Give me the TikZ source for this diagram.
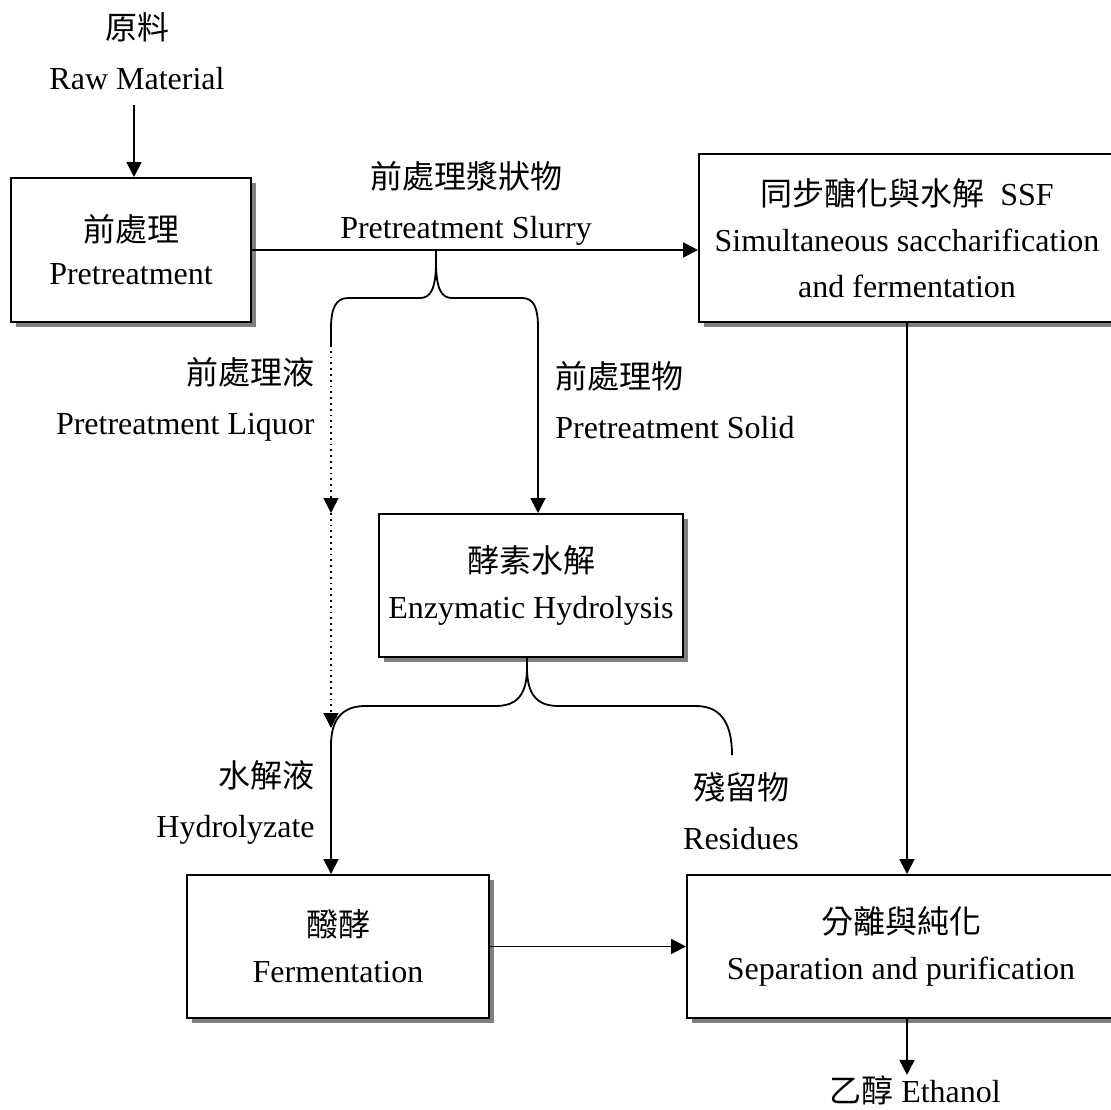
\documentclass[tikz,border=0pt]{standalone}
\usepackage{fontspec}
\setmainfont{Liberation Serif}
\newfontfamily\cjk{Noto Sans CJK TC}
\usetikzlibrary{arrows.meta,shadows}
\tikzset{
  stage/.style={draw,line width=1pt,fill=white,align=center,inner sep=0pt,
    drop shadow={shadow xshift=2.5pt,shadow yshift=-2.5pt,fill=gray,opacity=1}},
  lbl/.style={inner sep=0pt,align=center,font=\fontsize{16}{25}\selectfont},
  flow/.style={line width=0.9pt,-{Triangle[length=7.5pt,width=7.5pt]}},
  brace/.style={line width=0.9pt},
}
\begin{document}
\begin{tikzpicture}[x=0.5pt,y=-0.5pt,font=\fontsize{16}{23}\selectfont]
\useasboundingbox (0,0) rectangle (1111,1109);
\node[lbl] (raw) at (137,51) {{\cjk 原料}\\Raw Material};
\node[stage,minimum width=120pt,minimum height=72pt,font=\fontsize{16}{21.5}\selectfont] (pre) at (131,250) {{\cjk 前處理}\\Pretreatment};
\node[stage,minimum width=208pt,minimum height=84pt] (ssf) at (907,238) {{\cjk 同步醣化與水解}~~SSF\\Simultaneous saccharification\\and fermentation};
\node[stage,minimum width=152pt,minimum height=71.5pt] (enz) at (531,585.5) {{\cjk 酵素水解}\\Enzymatic Hydrolysis};
\node[stage,minimum width=151pt,minimum height=71.5pt] (fer) at (338,946.5) {{\cjk 醱酵}\\Fermentation};
\node[stage,minimum width=214pt,minimum height=71.5pt] (sep) at (901,946.5) {{\cjk 分離與純化}\\Separation and purification};
\node[lbl] (slurry) at (466,203) {{\cjk 前處理漿狀物}\\Pretreatment Slurry};
\node[lbl,anchor=east,align=right] (liquor) at (315,399) {{\cjk 前處理液}\\Pretreatment Liquor};
\node[lbl,anchor=west,align=left] (solid) at (555,400) {{\cjk 前處理物}\\Pretreatment Solid};
\node[lbl,anchor=east,align=right] (hydro) at (315,802) {{\cjk 水解液}\\Hydrolyzate};
\node[lbl] (resid) at (741,811) {{\cjk 殘留物}\\Residues};
\node[lbl] (eth) at (915,1090) {{\cjk 乙醇} Ethanol};
\coordinate (rawin) at (134,105);
\draw[flow] (rawin) -- (rawin |- pre.north);
\draw[flow] (pre.east) -- (pre.east -| ssf.west);
\coordinate (split) at (436,250);
\draw[brace] (split) -- (436,262) .. controls (436,290) and (430,298) .. (420,298) -- (348,298)
  .. controls (336,298) and (331,308) .. (331,328) -- (331,345) coordinate (lq);
\draw[brace] (436,262) .. controls (436,290) and (442,298) .. (452,298) -- (522,298)
  .. controls (534,298) and (538,308) .. (538,328) coordinate (sd);
\draw[flow] (sd) -- (sd |- enz.north);
\draw[flow,dotted,line width=0.7pt] (lq) -- (331,513) coordinate (mid);
\draw[flow,dotted,line width=0.7pt] (mid) -- (331,728);
\coordinate (split2) at (527,657);
\draw[brace] (split2) -- (527,668) .. controls (527,700) and (512,706) .. (495,706) -- (365,706)
  .. controls (342,706) and (331,720) .. (331,745) coordinate (hy);
\draw[flow] (hy) -- (hy |- fer.north);
\draw[brace] (527,668) .. controls (527,700) and (542,706) .. (559,706) -- (696,706)
  .. controls (720,706) and (732,722) .. (732,755);
\draw[flow] (ssf.south) -- (ssf.south |- sep.north);
\draw[flow] (fer.east) -- (fer.east -| sep.west);
\draw[flow] (sep.south -| ssf.south) -- (eth.north -| ssf.south);
\end{tikzpicture}
\end{document}
